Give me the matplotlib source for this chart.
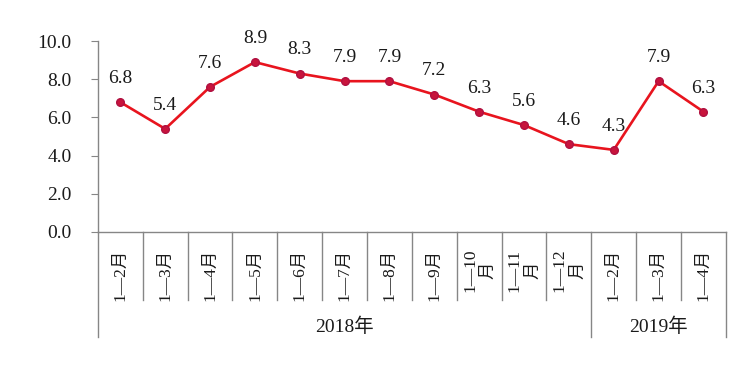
import matplotlib
matplotlib.use('Agg')
import matplotlib.pyplot as plt
import matplotlib.transforms as mtransforms

plt.rcParams['font.family'] = ['Liberation Serif', 'Noto Sans CJK SC']

months = ['1—2月', '1—3月', '1—4月', '1—5月', '1—6月', '1—7月', '1—8月', '1—9月',
          '1—10\n月', '1—11\n月', '1—12\n月', '1—2月', '1—3月', '1—4月']
values = [6.8, 5.4, 7.6, 8.9, 8.3, 7.9, 7.9, 7.2, 6.3, 5.6, 4.6, 4.3, 7.9, 6.3]
years = ['2018年', '2019年']
year_counts = [11, 3]
y_ticks = [0, 2, 4, 6, 8, 10]

fig = plt.figure(figsize=(7.53, 3.67), dpi=100)
ax = fig.add_axes([0.130, 0.368, 0.834, 0.52])

x = list(range(len(values)))
ax.plot(x, values, color='#E8141E', linewidth=1.9, marker='o', markersize=5.5,
        markerfacecolor='#C8143C', markeredgecolor='#B01040', zorder=3)
for xi, v in zip(x, values):
    ax.annotate(f'{v:.1f}', (xi, v), xytext=(0, 17), textcoords='offset points',
                ha='center', va='center', fontsize=14, color='#1a1a1a')

ax.set_xlim(-0.5, len(values) - 0.5)
ax.set_ylim(0, 10)
ax.set_yticks(y_ticks)
ax.set_yticklabels([f'{t:.1f}' for t in y_ticks], fontsize=14, color='#1a1a1a')
ax.tick_params(axis='y', length=5, color='#868686', pad=14)

ax.set_xticks(x)
ax.set_xticklabels(months, rotation=90, fontsize=12.5, color='#1a1a1a',
                   multialignment='center')
ax.tick_params(axis='x', length=0, pad=12)

for s in ['top', 'right']:
    ax.spines[s].set_visible(False)
for s in ['left', 'bottom']:
    ax.spines[s].set_color('#868686')
    ax.spines[s].set_linewidth(1.0)

# category separators below the axis
trans = mtransforms.blended_transform_factory(ax.transData, ax.transAxes)
short_bottom = -68 / 191
long_bottom = -105 / 191
group_edges = [-0.5]
for c in year_counts:
    group_edges.append(group_edges[-1] + c)
for b in range(len(values) + 1):
    pos = b - 0.5
    bottom = long_bottom if pos in group_edges else short_bottom
    ax.plot([pos, pos], [0, bottom], transform=trans, color='#868686',
            linewidth=1.0, clip_on=False)

for i, (yr, c) in enumerate(zip(years, year_counts)):
    center = (group_edges[i] + group_edges[i + 1]) / 2
    ax.text(center, -95 / 191, yr, transform=trans, ha='center', va='center',
            fontsize=14, color='#1a1a1a')

fig.savefig('out.png', dpi=100)
